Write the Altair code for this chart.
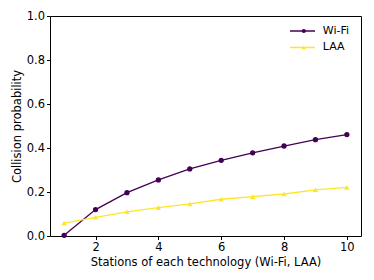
import altair as alt
import pandas as pd

stations = [1, 2, 3, 4, 5, 6, 7, 8, 9, 10]
wifi = [0.003, 0.12, 0.197, 0.255, 0.305, 0.344, 0.378, 0.409, 0.438, 0.461]
laa = [0.059, 0.085, 0.11, 0.129, 0.146, 0.167, 0.179, 0.191, 0.21, 0.221]
series_names = ["Wi-Fi", "LAA"]
line_codes = ["w", "l"]
series_colors = ["#440154", "#fde725"]
series_shapes = ["circle", "triangle-up"]
x_ticks = [2, 4, 6, 8, 10]
y_ticks = [0.0, 0.2, 0.4, 0.6, 0.8, 1.0]

rows = []
for name, code, vals in zip(series_names, line_codes, [wifi, laa]):
    for s, v in zip(stations, vals):
        rows.append({"stations": s, "prob": v, "series": name, "line_series": code})
df = pd.DataFrame(rows)

FONT = "DejaVu Sans"
FS = 11.5

x = alt.X("stations:Q",
          scale=alt.Scale(domain=[0.55, 10.45], nice=False, zero=False),
          axis=alt.Axis(values=x_ticks, format="d", grid=False, domain=False,
                        tickSize=3.5, tickColor="black", labelPadding=2,
                        labelFont=FONT, labelFontSize=FS, labelColor="black",
                        title="Stations of each technology (Wi-Fi, LAA)",
                        titleFont=FONT, titleFontSize=FS, titleFontWeight="normal",
                        titleColor="black", titlePadding=3))
y = alt.Y("prob:Q",
          scale=alt.Scale(domain=[0, 1], nice=False),
          axis=alt.Axis(values=y_ticks, format=".1f", grid=False, domain=False,
                        tickSize=3.5, tickColor="black", labelPadding=2,
                        labelFont=FONT, labelFontSize=FS, labelColor="black",
                        title="Collision probability",
                        titleFont=FONT, titleFontSize=FS, titleFontWeight="normal",
                        titleColor="black", titlePadding=4))

stroke = alt.Stroke("line_series:N",
                    scale=alt.Scale(domain=line_codes, range=series_colors),
                    legend=alt.Legend(orient="none", legendX=239, legendY=8,
                                      title=None, symbolType="stroke",
                                      symbolSize=625, symbolStrokeWidth=1.5,
                                      clipHeight=14, rowPadding=2.4,
                                      labelExpr="datum.label == 'w' ? 'Wi-Fi' : 'LAA'",
                                      labelOffset=6.8, labelFont=FONT,
                                      labelFontSize=11, labelColor="black"))
fill = alt.Fill("series:N",
                scale=alt.Scale(domain=series_names, range=series_colors),
                legend=alt.Legend(orient="none", legendX=248.3, legendY=8,
                                  title=None, symbolSize=18, symbolStrokeWidth=0,
                                  clipHeight=14, rowPadding=2.4,
                                  labelExpr="''", labelFontSize=11))
shape = alt.Shape("series:N",
                  scale=alt.Scale(domain=series_names, range=series_shapes),
                  legend=alt.Legend(orient="none", legendX=248.3, legendY=8,
                                    title=None, symbolSize=18, symbolStrokeWidth=0,
                                    clipHeight=14, rowPadding=2.4,
                                    labelExpr="''", labelFontSize=11))

layers = []
for name in series_names:
    base = alt.Chart(df).transform_filter(alt.datum.series == name)
    layers.append(base.mark_line(strokeWidth=1.3).encode(x=x, y=y, stroke=stroke))
    layers.append(base.mark_point(filled=True, size=28, opacity=1).encode(
        x=x, y=y, fill=fill, shape=shape))

chart = alt.layer(*layers).properties(
    width=311, height=220,
    autosize=alt.AutoSizeParams(type="none"),
    padding={"left": 42, "top": 8, "right": 4, "bottom": 36},
    background="white",
).configure_view(stroke="black", strokeWidth=1)

chart.save("out.html", embed_options={"renderer": "svg", "actions": False})
